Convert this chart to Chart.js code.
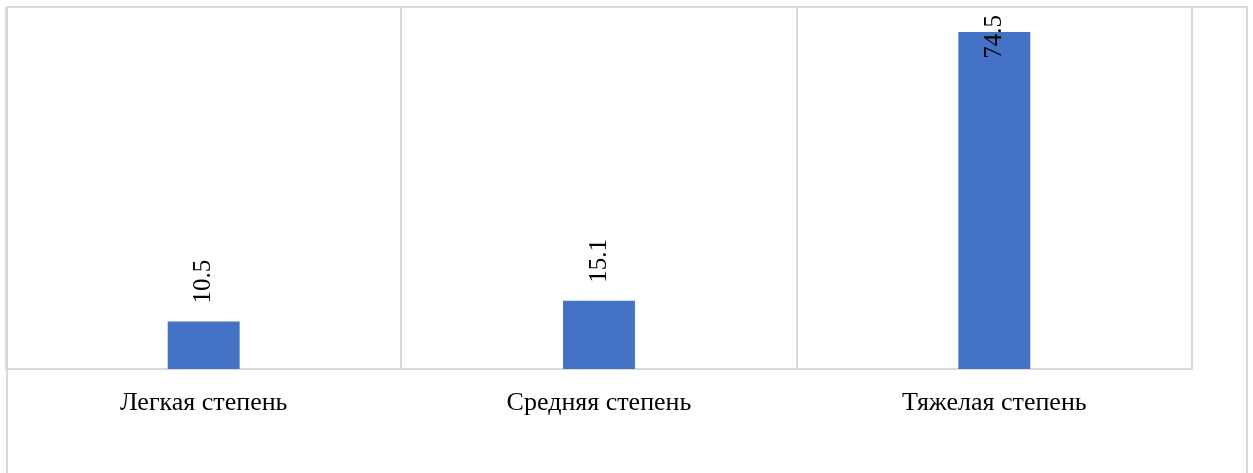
<!DOCTYPE html>
<html>
<head>
<meta charset="utf-8">
<script src="https://cdn.jsdelivr.net/npm/chart.js@4"></script>
<style>
  html, body { margin: 0; padding: 0; background: #fff; }
  #wrap { width: 1253px; height: 473px; }
</style>
</head>
<body>
<div id="wrap"><canvas id="chart"></canvas></div>
<script>
// data
const categories = ['Легкая степень', 'Средняя степень', 'Тяжелая степень'];
const values = [10.5, 15.1, 74.5];
const yMax = 80;

const GRID = '#d9d9d9';
const BAR = '#4472C4';
const FONT = '"Liberation Serif", "Times New Roman", serif';

// outer frame like the Excel chart area
const framePlugin = {
  id: 'frame',
  beforeDraw(chart) {
    const ctx = chart.ctx;
    ctx.save();
    ctx.fillStyle = '#fff';
    ctx.fillRect(0, 0, chart.width, chart.height);
    ctx.strokeStyle = GRID;
    ctx.lineWidth = 2;
    ctx.strokeRect(7, 7, 1240, 520);
    ctx.restore();
  }
};

// rotated value labels above the bars
const valueLabels = {
  id: 'valueLabels',
  afterDatasetsDraw(chart) {
    const ctx = chart.ctx;
    const meta = chart.getDatasetMeta(0);
    ctx.save();
    ctx.font = '25px ' + FONT;
    ctx.fillStyle = '#000';
    ctx.textAlign = 'left';
    ctx.textBaseline = 'middle';
    meta.data.forEach((bar, i) => {
      const txt = values[i].toFixed(1);
      const w = ctx.measureText(txt).width;
      let y = bar.y - 18;
      if (y - w < 15) y = 15 + w;
      ctx.save();
      ctx.translate(bar.x, y);
      ctx.rotate(-Math.PI / 2);
      ctx.fillText(txt, 0, 0);
      ctx.restore();
    });
    ctx.restore();
  }
};

new Chart(document.getElementById('chart'), {
  type: 'bar',
  data: {
    labels: categories,
    datasets: [{
      data: values,
      backgroundColor: BAR,
      categoryPercentage: 1,
      barPercentage: 0.182
    }]
  },
  options: {
    responsive: true,
    maintainAspectRatio: false,
    animation: false,
    layout: { padding: { left: 6, top: 7, right: 61, bottom: 0 } },
    plugins: { legend: { display: false }, tooltip: { enabled: false } },
    scales: {
      x: {
        grid: { color: GRID, lineWidth: 2, drawTicks: false, offset: true },
        border: { color: GRID, width: 2 },
        ticks: { color: '#000', font: { family: FONT, size: 26 }, padding: 19 },
        afterFit(scale) { scale.height = 104; }
      },
      y: {
        display: false,
        min: 0,
        max: yMax
      }
    }
  },
  plugins: [framePlugin, valueLabels]
});
</script>
</body>
</html>
